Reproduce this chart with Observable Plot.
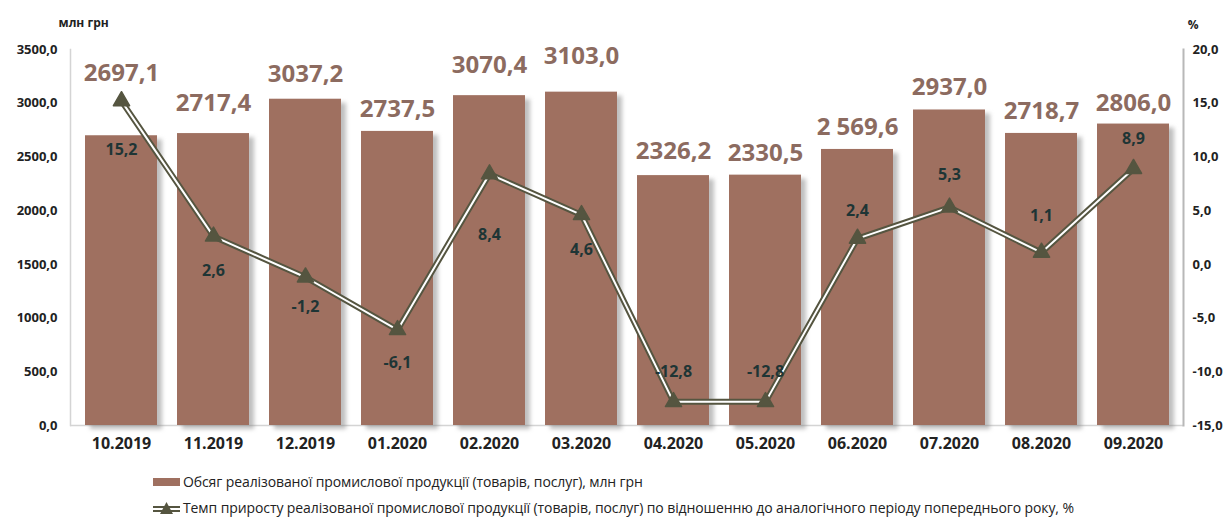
<!DOCTYPE html>
<html>
<head>
<meta charset="utf-8">
<script src="https://cdn.jsdelivr.net/npm/d3@7"></script>
<script src="https://cdn.jsdelivr.net/npm/@observablehq/plot@0.6"></script>
<style>
  body { margin: 0; background: #fff; font-family: "Open Sans", sans-serif; }
  #chart { width: 1223px; height: 465px; }
  .legend { position: relative; width: 1223px; height: 57px; font-family: "Open Sans", sans-serif; font-size: 14px; color: #222; }
  .legend .item { position: absolute; left: 153px; display: flex; align-items: center; white-space: nowrap; letter-spacing: -0.1px; }
  .legend .item svg { margin-right: 3px; }
</style>
</head>
<body>
<div id="chart"></div>
<div class="legend">
  <div class="item" style="top: 7px;">
    <svg width="27" height="10"><rect x="0" y="1" width="27" height="8" fill="#9f7060"></rect></svg>
    <span>Обсяг реалізованої промислової продукції (товарів, послуг), млн грн</span>
  </div>
  <div class="item" style="top: 33px;">
    <svg width="27" height="14"><line x1="0" y1="8" x2="27" y2="8" stroke="#555540" stroke-width="6"></line><line x1="0" y1="8" x2="27" y2="8" stroke="#fff" stroke-width="2"></line><path d="M13.5,1 L20,13 L7,13 Z" fill="#555540"></path></svg>
    <span>Темп приросту реалізованої промислової продукції (товарів, послуг) по відношенню до аналогічного періоду попереднього року, %</span>
  </div>
</div>
<script>
const months = ["10.2019","11.2019","12.2019","01.2020","02.2020","03.2020","04.2020","05.2020","06.2020","07.2020","08.2020","09.2020"];
const volume = [2697.1, 2717.4, 3037.2, 2737.5, 3070.4, 3103.0, 2326.2, 2330.5, 2569.6, 2937.0, 2718.7, 2806.0];
const growth = [15.2, 2.6, -1.2, -6.1, 8.4, 4.6, -12.8, -12.8, 2.4, 5.3, 1.1, 8.9];
const volumeLabels = ["2697,1","2717,4","3037,2","2737,5","3070,4","3103,0","2326,2","2330,5","2 569,6","2937,0","2718,7","2806,0"];
const leftTicks = [0, 500, 1000, 1500, 2000, 2500, 3000, 3500];
const rightTicks = [-15, -10, -5, 0, 5, 10, 15, 20];

// map percent axis (-15..20) onto the volume axis (0..3500)
const pctToY = p => (p + 15) * 100;
const yToPct = v => v / 100 - 15;
const fmt1 = v => v.toFixed(1).replace(".", ",");

const rows = months.map((m, i) => ({month: m, volume: volume[i], growth: growth[i], gy: pctToY(growth[i]), vlabel: volumeLabels[i], plabel: fmt1(growth[i]), i}));

// label offsets (styling)
const volDy = [-62, -30, -25, -22, -30, -36, -24, -22, -22, -23, -22, -21];
const pctDy = [49, 34, 30, 33, 61, 35, -30, -30, -28, -33, -37, -30];

const FONT = "Open Sans, sans-serif";
const brown = "#9f7060";
const lineCol = "#555540";

const chart = Plot.plot({
  width: 1223,
  height: 465,
  marginTop: 49,
  marginBottom: 40,
  marginLeft: 70,
  marginRight: 40,
  style: {fontFamily: FONT, background: "#fff"},
  x: {domain: months, paddingInner: 0.22, paddingOuter: 0.12, label: null},
  y: {domain: [0, 3500], label: null},
  marks: [
    Plot.ruleY([0], {stroke: "#d4d4d4", strokeWidth: 1.5}),
    Plot.frame({anchor: "left", stroke: "#d4d4d4", strokeWidth: 1.5}),
    Plot.frame({anchor: "right", stroke: "#b8b8b8", strokeWidth: 2}),
    Plot.axisY({ticks: leftTicks, tickSize: 0, tickPadding: 13, tickFormat: fmt1, fontSize: 13, fontWeight: "bold", fill: "#222", label: null}),
    Plot.axisY({anchor: "right", ticks: rightTicks.map(pctToY), tickSize: 0, tickPadding: 9, tickFormat: v => fmt1(yToPct(v)), fontSize: 13, fontWeight: "bold", fill: "#222", label: null}),
    Plot.axisX({tickSize: 0, tickPadding: 12, fontSize: 16, fontWeight: "bold", fill: "#222", label: null}),
    Plot.text(["млн грн"], {frameAnchor: "top-left", dx: -12, dy: -31, fontSize: 12, fontWeight: "bold", fill: "#222"}),
    Plot.text(["%"], {frameAnchor: "top-right", dx: 15, dy: -29, fontSize: 12, fontWeight: "bold", fill: "#222"}),
    // bar shadow
    Plot.barY(rows, {x: "month", y: "volume", fill: "#8a8a8a", fillOpacity: 0.55, dx: 5, dy: 4, imageFilter: "blur(2px)"}),
    Plot.barY(rows, {x: "month", y: "volume", fill: brown}),
    ...rows.map((r, k) => Plot.text([r], {x: "month", y: "volume", text: "vlabel", dy: volDy[k], fontSize: 24, fontWeight: "bold", fill: "#8c6b60"})),
    Plot.line(rows, {x: "month", y: "gy", stroke: lineCol, strokeWidth: 6, strokeLinejoin: "round"}),
    Plot.line(rows, {x: "month", y: "gy", stroke: "#fff", strokeWidth: 2, strokeLinejoin: "round"}),
    Plot.dot(rows, {x: "month", y: "gy", symbol: "triangle", r: 6, fill: lineCol, stroke: lineCol, strokeWidth: 1.5, strokeLinejoin: "round"}),
    ...rows.map((r, k) => Plot.text([r], {x: "month", y: "gy", text: "plabel", dy: pctDy[k], fontSize: 16, fontWeight: "bold", fill: "#1e3535"}))
  ]
});
document.getElementById("chart").appendChild(chart);
</script>
</body>
</html>
